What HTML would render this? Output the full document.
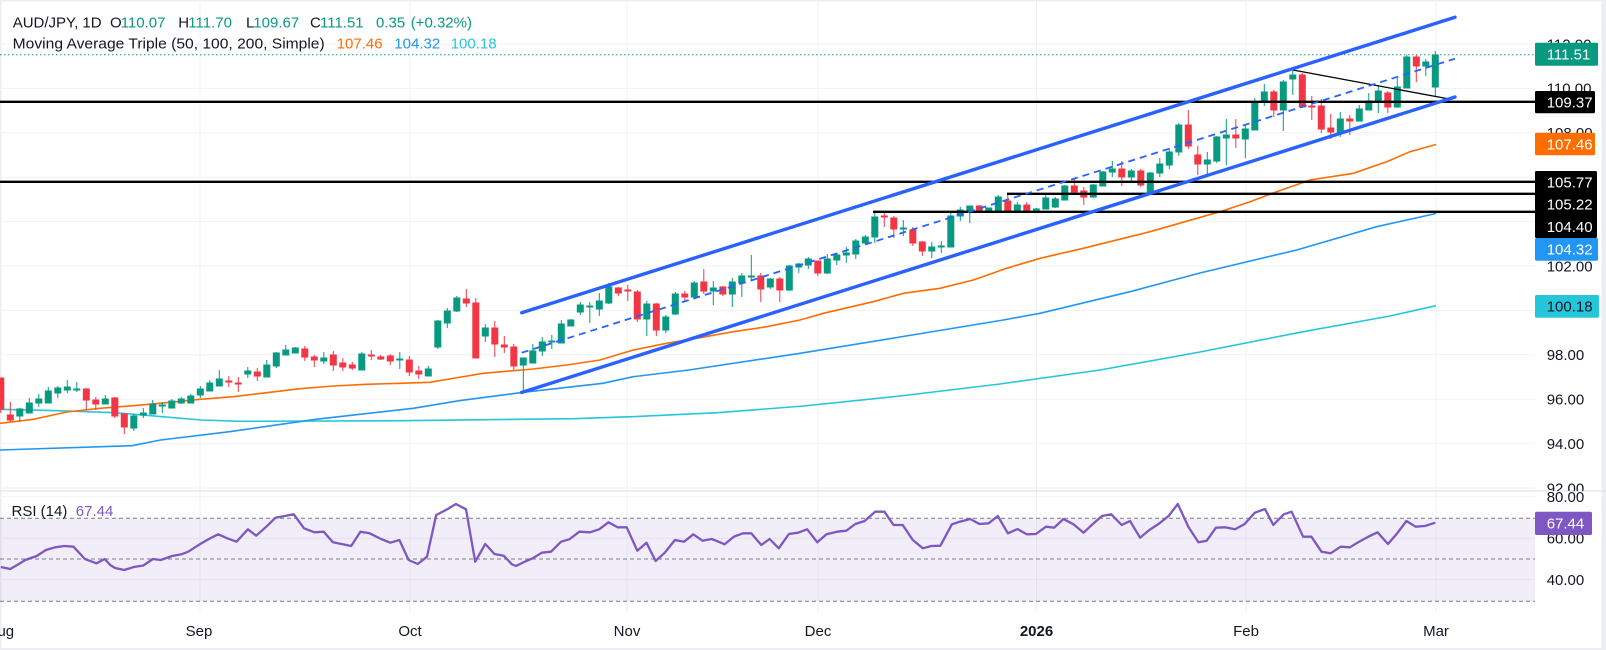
<!DOCTYPE html>
<html><head><meta charset="utf-8"><style>
html,body{margin:0;padding:0;background:#eceef2;}
svg{display:block;font-family:"Liberation Sans",Arial,sans-serif;}
</style></head><body>
<svg width="1606" height="650" viewBox="0 0 1606 650" xmlns="http://www.w3.org/2000/svg">
<defs>
<clipPath id="mainc"><rect x="0" y="0" width="1535" height="491"/></clipPath>
<clipPath id="rsic"><rect x="0" y="491" width="1535" height="121"/></clipPath>
<clipPath id="axm"><rect x="1535" y="0" width="71" height="491"/></clipPath>
<clipPath id="axr"><rect x="1535" y="491.5" width="71" height="121"/></clipPath>
</defs>
<rect x="1.5" y="1.5" width="1600" height="646.5" fill="#ffffff"/>

<!-- gridlines -->
<g stroke="#eff2f5" stroke-width="1">
<path d="M0 44H1535M0 88.4H1535M0 132.8H1535M0 177.2H1535M0 221.6H1535M0 266H1535M0 310.4H1535M0 354.8H1535M0 399.2H1535M0 443.6H1535M0 488H1535"/>
<path d="M0 496.75H1535M0 538.25H1535M0 579.75H1535"/>
<path d="M200 0V612M410 0V612M627 0V612M818 0V612M1036.5 0V612M1246 0V612M1436 0V612"/>
</g>
<line x1="0" y1="491" x2="1606" y2="491" stroke="#e0e3eb" stroke-width="1.2"/>

<!-- RSI pane -->
<g clip-path="url(#rsic)">
<rect x="0" y="518.25" width="1535" height="83" fill="#7e57c2" fill-opacity="0.1"/>
<g stroke="#787b86" stroke-width="1" stroke-dasharray="4 3" fill="none">
<line x1="0" y1="518.25" x2="1535" y2="518.25"/>
<line x1="0" y1="559" x2="1535" y2="559"/>
<line x1="0" y1="601.25" x2="1535" y2="601.25"/>
</g>
<polyline fill="none" stroke="#7e57c2" stroke-width="2.3" stroke-linejoin="round" points="0.8,567 10.3,569 18.4,564.3 25.3,560 36.7,556 45.9,550 55.1,547.3 64.3,546 73.5,546.7 84.9,559 96.4,563.3 104.7,559 110.2,565 115,568 124.3,570 133.8,567 143.3,565.5 152.9,559 160.7,560 172.2,556 181.4,554.3 188.2,551.7 199.7,544.3 208.9,539 218.1,534.3 227.3,538.3 236.5,541.7 247.9,529.3 256.2,535.7 266.3,526.7 275.5,517.7 293.8,514.3 304,528.3 314.5,532.3 323.7,531.7 332.9,542.3 351.2,546 360.4,531.7 369.6,533.3 381.1,539 390.3,542.7 399.4,540 408.6,560 417.8,564 427,556.7 436.2,515 447.7,509 455.9,504 466,509.3 475.2,561.7 485.3,544 494.5,554 503.7,555.7 511.9,564.3 516,566 523.4,562.3 532.6,558.3 541.8,552.7 551,551.7 561.1,541.7 569.3,539.3 579.4,531.7 590,532.3 599.2,529.3 608.4,522.3 617.5,527.3 626.7,527.3 637.3,550.7 646.5,542.7 655.6,561 664.8,552.7 674.9,540 684.1,541.7 693.3,534.3 702.5,540.7 711.7,539 720,542.3 724.6,544.3 733.8,536.7 743,533.3 751.2,533.3 761.3,545 769.6,539 778.8,548.3 788.9,534 798.1,532.7 807.2,529.3 817.3,542.3 826.5,534.3 837.1,531.7 846.3,530.7 855.4,524 864.6,521 875.2,511.7 884.4,511.7 893.6,525 902.7,525 912.8,540 922.9,548.3 931.2,546 940.4,545.7 951.9,524.3 959.7,521.7 970.2,519 979.4,524 988.6,523.3 997.8,516 1007.9,533.3 1017.5,529 1026.7,534.3 1035.9,534 1046,526.7 1054.2,527.7 1063.4,519 1073.5,524.3 1083.6,532.7 1092.8,524 1102,516 1111.2,514.3 1121.7,525 1130,521 1140.1,537.7 1149.3,530 1158.5,524 1168.6,516 1177.8,504 1188.3,526.7 1198.4,542.3 1206.7,540.7 1215.9,527.7 1225,527.3 1235.1,529.3 1244.3,524.3 1254.9,512.7 1265,509 1273.3,525 1283.8,514.3 1291.6,511.7 1303.1,536.7 1311.4,536.7 1321.5,551.7 1330.6,553.3 1340.7,546.7 1349.9,547.3 1359.1,541.7 1368.3,536.7 1377.5,532.3 1388,544 1397.2,533.3 1406.4,521 1415.6,526.7 1424.8,526 1435.3,522.7"/>
</g>
<text x="11.5" y="516" font-size="15" fill="#131722">RSI (14)</text>
<text x="75.8" y="516" font-size="15" fill="#7e57c2">67.44</text>

<!-- main pane -->
<g clip-path="url(#mainc)">
<line x1="0" y1="54.7" x2="1535" y2="54.7" stroke="#089981" stroke-width="1" stroke-dasharray="1.5 2.5"/>
<!-- MAs -->
<polyline fill="none" stroke="#26c6da" stroke-width="1.6" points="0,409.3 57.4,410.7 114.8,412.7 201,420 241,421.3 401.8,420.7 574,418.7 631.5,416.7 717.6,412.7 803.7,406 900,396 1000,384 1100,370 1200,352 1300,332.3 1390,316 1436,305.7"/>
<polyline fill="none" stroke="#2196f3" stroke-width="1.6" points="0,450 132,445.7 160.7,440 229.6,431.7 315.7,419.3 413.3,408.3 459.2,400.7 523.3,392.3 602.8,383.3 633.3,376.7 688.9,370 800,353.3 900,337 1003.3,320 1040,313.3 1130,291.7 1200,273 1296.7,250 1376.7,226.7 1436,213.5"/>
<polyline fill="none" stroke="#ff6d00" stroke-width="1.6" points="0,423.3 33.3,419.3 66.7,412 100,408.3 133.3,405.7 166.7,402.7 200,399.3 233.3,396.7 266.7,392.7 300,388.7 333.3,386 366.7,384.3 400,383.3 430,382.3 443.3,380 483.3,373.3 533.3,369 566.7,365 600,360 633.3,350 666.7,343.3 700,337.7 733.3,331.7 766.7,326.7 800,320 823.3,313.3 873.3,301.7 903.3,293.3 940,288.3 973.3,280 1006.7,268.3 1040,258.3 1083.3,248.3 1130,236.7 1150,231.7 1220,211.7 1250,201.7 1276.7,191.7 1310,180 1353.3,173.3 1386.7,161.7 1410,151.7 1436,144.5"/>
<!-- candles green -->
<path fill="#089981" stroke="#089981" stroke-width="1" d="M16.8 409h6v7h-6zM19.8 408V422M26.3 403h6v10h-6zM29.3 398V413M35.8 399h6v4h-6zM38.8 394V407M45.3 391h6v12h-6zM48.3 387V403M54.8 388h6v5h-6zM57.8 386V398M64.3 387h6v3h-6zM67.3 380V393M73.8 389h6v1h-6zM76.8 382V392M102.3 399h6v5h-6zM105.3 395V404M130.8 416h6v12h-6zM133.8 414V431M140.3 413h6v2h-6zM143.3 408V418M149.8 404h6v10h-6zM152.8 400V414M159.3 405h6v1h-6zM162.3 402V413M168.8 401h6v7h-6zM171.8 399V408M178.3 399h6v4h-6zM181.3 397V404M187.8 396h6v7h-6zM190.8 394V403M197.3 389h6v6h-6zM200.3 386V398M206.8 383h6v8h-6zM209.8 380V391M216.3 379h6v7h-6zM219.3 370V386M244.8 371h6v3h-6zM247.8 367V378M263.8 365h6v12h-6zM266.8 360V377M273.3 353h6v13h-6zM276.3 352V368M282.8 350h6v5h-6zM285.8 345V355M292.3 348h6v5h-6zM295.3 347V353M320.8 358h6v3h-6zM323.8 352V364M358.8 354h6v16h-6zM361.8 352V370M396.8 359h6v1h-6zM399.8 352V369M425.3 369h6v7h-6zM428.3 366V376M434.8 321h6v26h-6zM437.8 320V349M444.3 311h6v12h-6zM447.3 308V328M453.8 298h6v13h-6zM456.8 296V312M482.3 328h6v8h-6zM485.3 324V342M520.3 358h6v7h-6zM523.3 358V392M529.8 351h6v12h-6zM532.8 344V363M539.3 342h6v9h-6zM542.3 337V356M548.8 341h6v1h-6zM551.8 335V349M558.3 324h6v19h-6zM561.3 320V343M567.8 320h6v6h-6zM570.8 319V326M577.3 305h6v7h-6zM580.3 302V315M586.8 306h6v1h-6zM589.8 302V323M596.3 301h6v8h-6zM599.3 293V316M605.8 287h6v16h-6zM608.8 283V304M643.8 304h6v15h-6zM646.8 301V336M662.8 317h6v13h-6zM665.8 315V333M672.3 294h6v20h-6zM675.3 292V315M691.3 283h6v14h-6zM694.3 281V297M710.3 288h6v3h-6zM713.3 281V305M729.3 282h6v12h-6zM732.3 278V307M738.8 276h6v7h-6zM741.8 273V297M748.3 276h6v1h-6zM751.3 255V281M767.3 279h6v8h-6zM770.3 278V289M786.3 266h6v24h-6zM789.3 265V291M795.8 264h6v3h-6zM798.8 263V273M805.3 259h6v6h-6zM808.3 257V269M824.3 259h6v14h-6zM827.3 254V274M833.8 255h6v5h-6zM836.8 253V265M843.3 253h6v2h-6zM846.3 247V263M852.8 241h6v13h-6zM855.8 239V259M862.3 237h6v6h-6zM865.3 235V243M871.8 217h6v20h-6zM874.8 212V243M900.3 228h6v1h-6zM903.3 220V236M928.8 247h6v4h-6zM931.8 242V258M938.3 246h6v1h-6zM941.3 241V253M947.8 216h6v31h-6zM950.8 213V247M957.3 210h6v6h-6zM960.3 207V221M966.8 206h6v5h-6zM969.8 206V223M985.8 208h6v3h-6zM988.8 208V211M995.3 197h6v14h-6zM998.3 195V211M1014.3 205h6v6h-6zM1017.3 202V212M1033.3 209h6v1h-6zM1036.3 208V210M1042.8 198h6v11h-6zM1045.8 193V209M1052.3 199h6v8h-6zM1055.3 197V208M1061.8 186h6v14h-6zM1064.8 185V200M1090.3 185h6v12h-6zM1093.3 184V198M1099.8 172h6v14h-6zM1102.8 171V186M1109.3 169h6v3h-6zM1112.3 161V177M1128.3 171h6v6h-6zM1131.3 169V183M1147.3 173h6v20h-6zM1150.3 172V194M1156.8 164h6v9h-6zM1159.8 158V177M1166.3 152h6v13h-6zM1169.3 148V169M1175.8 125h6v27h-6zM1178.8 123V156M1204.3 160h6v4h-6zM1207.3 152V175M1213.8 137h6v24h-6zM1216.8 136V163M1223.3 135h6v3h-6zM1226.3 119V165M1242.3 129h6v10h-6zM1245.3 125V158M1251.8 102h6v28h-6zM1254.8 98V130M1261.3 92h6v10h-6zM1264.3 84V106M1280.3 82h6v28h-6zM1283.3 80V131M1289.8 75h6v4h-6zM1292.8 70V95M1337.3 119h6v14h-6zM1340.3 112V137M1356.3 109h6v12h-6zM1359.3 105V121M1365.8 101h6v9h-6zM1368.8 93V110M1375.3 91h6v11h-6zM1378.3 85V113M1394.3 87h6v20h-6zM1397.3 78V108M1403.8 57h6v31h-6zM1406.8 55V88M1422.8 62h6v4h-6zM1425.8 59V76M1432.3 55h6v32h-6zM1435.3 51V96"/>
<!-- candles red -->
<path fill="#f23645" stroke="#f23645" stroke-width="1" d="M-2.2 378h6v31h-6zM0.8 378V413M7.3 415h6v5h-6zM10.3 402V422M83.3 389h6v11h-6zM86.3 388V410M92.8 400h6v4h-6zM95.8 397V410M111.8 398h6v18h-6zM114.8 397V418M121.3 414h6v13h-6zM124.3 413V434M225.8 381h6v1h-6zM228.8 376V387M235.3 383h6v1h-6zM238.3 377V392M254.3 372h6v4h-6zM257.3 368V381M301.8 349h6v8h-6zM304.8 346V361M311.3 357h6v3h-6zM314.3 355V367M330.3 355h6v10h-6zM333.3 351V371M339.8 363h6v4h-6zM342.8 358V371M349.3 365h6v3h-6zM352.3 362V370M368.3 355h6v1h-6zM371.3 350V360M377.8 357h6v2h-6zM380.8 355V360M387.3 356h6v5h-6zM390.3 354V365M406.3 360h6v12h-6zM409.3 356V376M415.8 371h6v3h-6zM418.8 366V379M463.3 299h6v4h-6zM466.3 289V307M472.8 303h6v55h-6zM475.8 298V358M491.8 328h6v16h-6zM494.8 321V357M501.3 345h6v2h-6zM504.3 336V353M510.8 347h6v19h-6zM513.8 344V370M615.3 288h6v5h-6zM618.3 287V296M624.8 290h6v1h-6zM627.8 285V301M634.3 292h6v27h-6zM637.3 290V322M653.3 304h6v26h-6zM656.3 303V336M681.8 294h6v3h-6zM684.8 291V301M700.8 282h6v9h-6zM703.8 269V294M719.8 287h6v7h-6zM722.8 286V296M757.8 276h6v13h-6zM760.8 273V302M776.8 279h6v11h-6zM779.8 277V302M814.8 261h6v12h-6zM817.8 261V276M881.3 216h6v1h-6zM884.3 213V227M890.8 218h6v11h-6zM893.8 216V238M909.8 230h6v13h-6zM912.8 227V246M919.3 242h6v9h-6zM922.3 241V256M976.3 206h6v5h-6zM979.3 205V212M1004.8 201h6v11h-6zM1007.8 193V213M1023.8 205h6v6h-6zM1026.8 202V211M1071.3 186h6v6h-6zM1074.3 178V194M1080.8 191h6v6h-6zM1083.8 187V205M1118.8 169h6v8h-6zM1121.8 161V186M1137.8 171h6v14h-6zM1140.8 169V187M1185.3 125h6v21h-6zM1188.3 110V149M1194.8 155h6v9h-6zM1197.8 146V175M1232.8 135h6v3h-6zM1235.8 119V148M1270.8 92h6v18h-6zM1273.8 90V117M1299.3 75h6v32h-6zM1302.3 73V108M1308.8 106h6v1h-6zM1311.8 96V120M1318.3 106h6v23h-6zM1321.3 99V133M1327.8 128h6v4h-6zM1330.8 114V139M1346.8 119h6v2h-6zM1349.8 115V135M1384.8 93h6v14h-6zM1387.8 91V113M1413.3 57h6v9h-6zM1416.3 55V82"/>
<!-- drawings -->
<g stroke="#000000" stroke-width="2.4">
<line x1="0" y1="101.8" x2="1535" y2="101.8"/>
<line x1="0" y1="181.8" x2="1535" y2="181.8"/>
<line x1="1007" y1="193.8" x2="1535" y2="193.8"/>
<line x1="873" y1="211.8" x2="1535" y2="211.8"/>
</g>
<line x1="1293" y1="70" x2="1452" y2="99.5" stroke="#000" stroke-width="1.3"/>
<line x1="521.7" y1="312.7" x2="1455" y2="17.3" stroke="#2962ff" stroke-width="3.4" stroke-linecap="round"/>
<line x1="521.5" y1="392.5" x2="1455" y2="97" stroke="#2962ff" stroke-width="3.4" stroke-linecap="round"/>
<line x1="521.7" y1="352.7" x2="1455" y2="58.7" stroke="#2962ff" stroke-width="1.8" stroke-dasharray="7 5"/>
</g>

<!-- header -->
<g font-size="15" fill="#131722">
<text x="12.7" y="27.5">AUD/JPY, 1D</text>
<text x="110" y="27.5">O</text><text x="120.7" y="27.5" fill="#089981">110.07</text>
<text x="178.3" y="27.5">H</text><text x="188.3" y="27.5" fill="#089981">111.70</text>
<text x="246" y="27.5">L</text><text x="253.3" y="27.5" fill="#089981">109.67</text>
<text x="310" y="27.5">C</text><text x="320" y="27.5" fill="#089981">111.51</text>
<text x="376" y="27.5" fill="#089981">0.35</text><text x="410.7" y="27.5" fill="#089981">(+0.32%)</text>
<text x="12.7" y="48.3" textLength="312" lengthAdjust="spacingAndGlyphs">Moving Average Triple (50, 100, 200, Simple)</text>
<text x="336.7" y="48.3" fill="#ff6d00">107.46</text>
<text x="394.3" y="48.3" fill="#2196f3">104.32</text>
<text x="450.7" y="48.3" fill="#26c6da">100.18</text>
</g>

<!-- price axis -->
<g font-size="15" fill="#131722" clip-path="url(#axm)">
<text x="1546.7" y="49.3">112.00</text>
<text x="1546.7" y="93.7">110.00</text>
<text x="1546.7" y="138.1">108.00</text>
<text x="1546.7" y="182.5">106.00</text>
<text x="1546.7" y="226.9">104.00</text>
<text x="1546.7" y="271.3">102.00</text>
<text x="1546.7" y="315.7">100.00</text>
<text x="1546.7" y="360.1">98.00</text>
<text x="1546.7" y="404.5">96.00</text>
<text x="1546.7" y="448.9">94.00</text>
<text x="1546.7" y="493.3">92.00</text>
</g>
<g font-size="15" fill="#131722" clip-path="url(#axr)">
<text x="1546.7" y="502">80.00</text>
<text x="1546.7" y="543.5">60.00</text>
<text x="1546.7" y="585">40.00</text>
</g>
<g font-size="15">
<rect x="1535" y="42.7" width="63" height="23" rx="1.5" fill="#089981"/>
<text x="1546.7" y="59.5" fill="#fff">111.51</text>
<rect x="1535" y="91" width="60" height="22.3" rx="1.5" fill="#000"/>
<text x="1546.7" y="107.5" fill="#fff">109.37</text>
<rect x="1535" y="132.7" width="60" height="22.6" rx="1.5" fill="#ff6d00"/>
<text x="1546.7" y="149.3" fill="#fff">107.46</text>
<rect x="1535" y="171" width="62" height="67" rx="1.5" fill="#000"/>
<text x="1546.7" y="187.3" fill="#fff">105.77</text>
<text x="1546.7" y="209.3" fill="#fff">105.22</text>
<text x="1546.7" y="232" fill="#fff">104.40</text>
<rect x="1535" y="238" width="63" height="22.7" rx="1.5" fill="#2196f3"/>
<text x="1546.7" y="254.6" fill="#fff">104.32</text>
<rect x="1535" y="295" width="64" height="22.7" rx="1.5" fill="#26c6da"/>
<text x="1546.7" y="311.7" fill="#131722">100.18</text>
<rect x="1535" y="511.7" width="57" height="23.3" rx="1.5" fill="#7e57c2"/>
<text x="1546.7" y="528.6" fill="#fff">67.44</text>
</g>

<!-- time axis -->
<g font-size="15" fill="#131722" text-anchor="middle">
<text x="0.8" y="636">Aug</text>
<text x="199" y="636">Sep</text>
<text x="410" y="636">Oct</text>
<text x="627" y="636">Nov</text>
<text x="818" y="636">Dec</text>
<text x="1036.5" y="636" font-weight="bold">2026</text>
<text x="1246" y="636">Feb</text>
<text x="1436" y="636">Mar</text>
</g>
</svg>
</body></html>
